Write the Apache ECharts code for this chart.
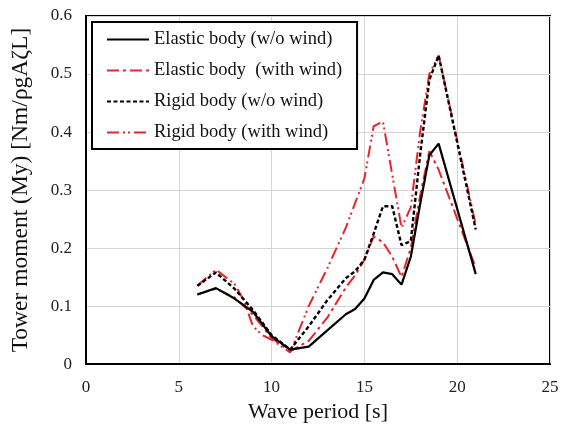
<!DOCTYPE html>
<html>
<head>
<meta charset="utf-8">
<script src="https://cdn.jsdelivr.net/npm/echarts@6/dist/echarts.min.js"></script>
<style>
  html, body { margin: 0; padding: 0; background: #fff; }
  #chart { width: 566px; height: 428px; }
</style>
</head>
<body>
<div id="chart"></div>
<script>
// wave period [s] / tower moment values
var elasticNoWindX = [6, 7, 8, 9, 10, 11, 12, 13, 14, 14.5, 15, 15.5, 16, 16.5, 17, 17.5, 18, 18.5, 19, 21]
var elasticNoWindY = [0.12, 0.131, 0.113, 0.09, 0.048, 0.025, 0.03, 0.058, 0.086, 0.095, 0.113, 0.145, 0.158, 0.155, 0.137, 0.185, 0.275, 0.36, 0.38, 0.155]

var elasticWindX = [6, 7, 8, 9, 10, 11, 12, 13, 14, 14.5, 15, 15.5, 16, 16.5, 17, 17.5, 18, 18.5, 19, 21]
var elasticWindY = [0.12, 0.13, 0.115, 0.085, 0.045, 0.022, 0.04, 0.08, 0.132, 0.153, 0.18, 0.22, 0.21, 0.185, 0.15, 0.2, 0.29, 0.367, 0.335, 0.166]

var rigidNoWindX = [6, 7, 8, 9, 10, 11, 12, 13, 14, 14.5, 15, 15.5, 16, 16.5, 17, 17.5, 18, 18.5, 19, 21]
var rigidNoWindY = [0.135, 0.158, 0.13, 0.093, 0.05, 0.025, 0.065, 0.11, 0.148, 0.16, 0.18, 0.225, 0.272, 0.272, 0.205, 0.212, 0.36, 0.49, 0.532, 0.232]

var rigidWindX = [6, 7, 8, 8.5, 9, 9.5, 10, 11, 12, 13, 14, 15, 15.5, 16, 17, 17.5, 18, 18.5, 19, 21]
var rigidWindY = [0.135, 0.163, 0.138, 0.11, 0.065, 0.05, 0.042, 0.02, 0.1, 0.165, 0.235, 0.32, 0.41, 0.418, 0.235, 0.27, 0.4, 0.5, 0.532, 0.24]

var seriesNames = ['Elastic body (w/o wind)', 'Elastic body  (with wind)', 'Rigid body (w/o wind)', 'Rigid body (with wind)']

var font = 'Liberation Serif, Times New Roman, serif'
var red = '#e3262d'

function pairs(xs, ys) {
  return xs.map(function(x, i) { return [x, ys[i]] })
}

var chart = echarts.init(document.getElementById('chart'))
chart.setOption({
  animation: false,
  backgroundColor: '#fff',
  grid: {
    left: 86,
    right: 16,
    top: 16,
    bottom: 61,
    show: true,
    borderColor: '#000',
    borderWidth: 2
  },
  legend: {
    orient: 'vertical',
    left: 92,
    top: 22,
    padding: [8, 15, 7, 14],
    itemWidth: 42,
    itemHeight: 14,
    itemGap: 12,
    backgroundColor: '#fff',
    borderColor: '#000',
    borderWidth: 2,
    itemStyle: { opacity: 0 },
    textStyle: { fontFamily: font, fontSize: 18.5, color: '#111' },
    data: seriesNames
  },
  xAxis: {
    type: 'value',
    min: 0,
    max: 25,
    interval: 5,
    name: 'Wave period [s]',
    nameLocation: 'middle',
    nameGap: 32,
    nameTextStyle: { fontFamily: font, fontSize: 22, color: '#111' },
    axisLine: { lineStyle: { color: '#000', width: 2 } },
    axisTick: { show: false },
    axisLabel: { fontFamily: font, fontSize: 17, color: '#222', margin: 15 },
    splitLine: { show: true, lineStyle: { color: '#d4d4d4', width: 1 } }
  },
  yAxis: {
    type: 'value',
    min: 0,
    max: 0.6,
    interval: 0.1,
    name: 'Tower moment (My) [Nm/ρgAζL]',
    nameLocation: 'middle',
    nameGap: 53,
    nameTextStyle: { fontFamily: font, fontSize: 23.5, color: '#111' },
    axisLine: { show: true, lineStyle: { color: '#000', width: 2 } },
    axisTick: { show: false },
    axisLabel: { fontFamily: font, fontSize: 17, color: '#222', margin: 14 },
    splitLine: { show: true, lineStyle: { color: '#d4d4d4', width: 1 } }
  },
  series: [
    {
      name: seriesNames[0],
      type: 'line',
      symbol: 'none',
      data: pairs(elasticNoWindX, elasticNoWindY),
      lineStyle: { color: '#000', width: 2.2, type: 'solid' },
      itemStyle: { color: '#000' },
      z: 4
    },
    {
      name: seriesNames[1],
      type: 'line',
      symbol: 'none',
      data: pairs(elasticWindX, elasticWindY),
      lineStyle: { color: red, width: 2, type: [12, 4, 3, 4] },
      itemStyle: { color: red },
      z: 3
    },
    {
      name: seriesNames[2],
      type: 'line',
      symbol: 'none',
      data: pairs(rigidNoWindX, rigidNoWindY),
      lineStyle: { color: '#000', width: 2.4, type: [4, 2.5] },
      itemStyle: { color: '#000' },
      z: 5
    },
    {
      name: seriesNames[3],
      type: 'line',
      symbol: 'none',
      data: pairs(rigidWindX, rigidWindY),
      lineStyle: { color: red, width: 2, type: [12, 4, 2, 3, 2, 4] },
      itemStyle: { color: red },
      z: 2
    }
  ]
})
</script>
</body>
</html>
